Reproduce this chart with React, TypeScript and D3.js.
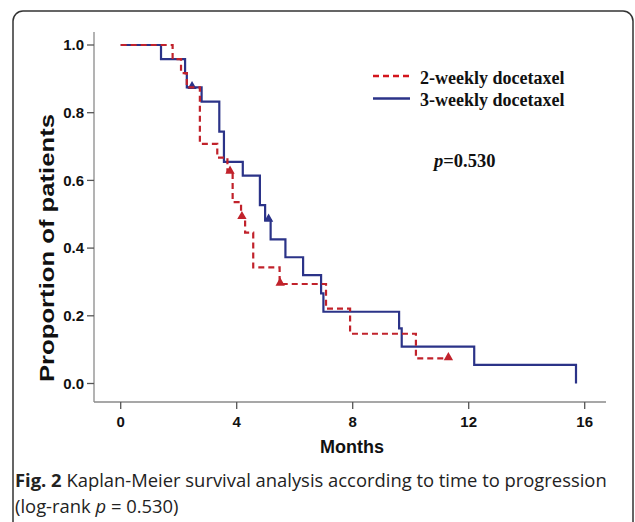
import { useMemo } from 'react';
import * as d3 from 'd3';

// Kaplan-Meier steps (months, proportion after the drop)
const redTimes = [0, 1.79, 2.08, 2.28, 2.73, 3.33, 3.68, 3.86, 4.15, 4.29, 4.57, 5.48, 7.08, 7.91, 10.18];
const redSurv = [1.0, 0.958, 0.917, 0.875, 0.708, 0.667, 0.625, 0.536, 0.491, 0.446, 0.343, 0.294, 0.221, 0.147, 0.074];
const redEnd = 11.3;
const redCensor = [3.77, 4.18, 5.5, 11.3];

const blueTimes = [0, 1.39, 2.22, 2.28, 2.79, 3.4, 3.56, 4.21, 4.8, 4.98, 5.17, 5.68, 6.29, 6.91, 6.99, 9.6, 9.69, 12.19, 15.7];
const blueSurv = [1.0, 0.958, 0.917, 0.875, 0.833, 0.744, 0.655, 0.614, 0.527, 0.483, 0.426, 0.373, 0.32, 0.266, 0.212, 0.163, 0.109, 0.055, 0.0];
const blueEnd = 15.7;
const blueCensor = [2.46, 5.1];

const xTicks = [0, 4, 8, 12, 16];
const yTicks = [0, 0.2, 0.4, 0.6, 0.8, 1.0];

const legendLabels = ['2-weekly docetaxel', '3-weekly docetaxel'];

const RED = '#c1222b';
const BLUE = '#2b3388';
const AXIS = '#8a8a8a';

function levelAt(times: number[], surv: number[], t: number) {
  const i = d3.bisectRight(times, t) - 1;
  return surv[Math.max(0, i)];
}

function stepPoints(times: number[], surv: number[], end: number) {
  const pts: [number, number][] = times.map((t, i) => [t, surv[i]]);
  const last = pts[pts.length - 1];
  if (last[0] < end) pts.push([end, last[1]]);
  return pts;
}

export default function App() {
  const x = useMemo(() => d3.scaleLinear().domain([0, 16]).range([120.7, 584.7]), []);
  const y = useMemo(() => d3.scaleLinear().domain([0, 1]).range([383.5, 45]), []);

  const line = d3
    .line<[number, number]>()
    .x((d) => x(d[0]))
    .y((d) => y(d[1]))
    .curve(d3.curveStepAfter);

  const redPath = line(stepPoints(redTimes, redSurv, redEnd)) || '';
  const bluePath = line(stepPoints(blueTimes, blueSurv, blueEnd)) || '';
  const tri = d3.symbol().type(d3.symbolTriangle).size(38)() || '';

  const axisFont = 'Arial, "Liberation Sans", Helvetica, sans-serif';
  const serif = '"Times New Roman", "Liberation Serif", serif';
  const capFont = '"Open Sans", "Noto Sans", sans-serif';

  return (
    <svg width={635} height={522} style={{ position: 'absolute', left: 0, top: 0, background: '#fff' }}>
      <rect x={13} y={11} width={620} height={620} rx={10} fill="none" stroke="#333" strokeWidth={1.5} />

      {/* axes */}
      <line x1={94} x2={94} y1={32} y2={402} stroke={AXIS} strokeWidth={1.3} />
      <line x1={94} x2={606} y1={402} y2={402} stroke={AXIS} strokeWidth={1.3} />

      {yTicks.map((v) => (
        <g key={v} transform={`translate(0,${y(v)})`}>
          <line x1={87} x2={94} stroke="#555" strokeWidth={1.3} />
          <text x={84} dy="0.35em" textAnchor="end" fontFamily={axisFont} fontWeight="bold" fontSize={15} fill="#111">
            {v.toFixed(1)}
          </text>
        </g>
      ))}
      {xTicks.map((v) => (
        <g key={v} transform={`translate(${x(v)},0)`}>
          <line y1={402} y2={409} stroke="#555" strokeWidth={1.3} />
          <text y={427} textAnchor="middle" fontFamily={axisFont} fontWeight="bold" fontSize={15} fill="#111">
            {v}
          </text>
        </g>
      ))}

      <text x={352} y={452.5} textAnchor="middle" fontFamily={axisFont} fontWeight="bold" fontSize={18} fill="#111">
        Months
      </text>
      <text
        transform="translate(54,248) rotate(-90)"
        textAnchor="middle"
        fontFamily={axisFont}
        fontWeight="bold"
        fontSize={20}
        textLength={268}
        lengthAdjust="spacingAndGlyphs"
        fill="#111"
      >
        Proportion of patients
      </text>

      {/* curves */}
      <path d={bluePath} fill="none" stroke={BLUE} strokeWidth={2.2} />
      {blueCensor.map((t) => (
        <path key={t} d={tri} transform={`translate(${x(t)},${y(levelAt(blueTimes, blueSurv, t)) - 1})`} fill={BLUE} />
      ))}
      <path d={redPath} fill="none" stroke={RED} strokeWidth={2.2} strokeDasharray="6,4" />
      {redCensor.map((t) => (
        <path key={t} d={tri} transform={`translate(${x(t)},${y(levelAt(redTimes, redSurv, t)) - 1})`} fill={RED} />
      ))}

      {/* legend */}
      <line x1={373} x2={410} y1={76} y2={76} stroke="#d3151c" strokeWidth={2.4} strokeDasharray="6,4" />
      <line x1={373} x2={410} y1={98.5} y2={98.5} stroke={BLUE} strokeWidth={2.4} />
      {legendLabels.map((s, i) => (
        <text key={s} x={420} y={83.5 + i * 22.5} fontFamily={serif} fontWeight="bold" fontSize={18} fill="#111">
          {s}
        </text>
      ))}
      <text x={434} y={166.5} fontFamily={serif} fontWeight="bold" fontSize={18.5} fill="#111">
        <tspan fontStyle="italic">p</tspan>=0.530
      </text>

      {/* caption */}
      <text x={15} y={487} fontFamily={capFont} fontSize={18.4} fill="#222">
        <tspan fontWeight="bold">Fig. 2</tspan> Kaplan-Meier survival analysis according to time to progression
      </text>
      <text x={15} y={513} fontFamily={capFont} fontSize={18.4} fill="#222">
        (log-rank <tspan fontStyle="italic">p</tspan> = 0.530)
      </text>
    </svg>
  );
}
